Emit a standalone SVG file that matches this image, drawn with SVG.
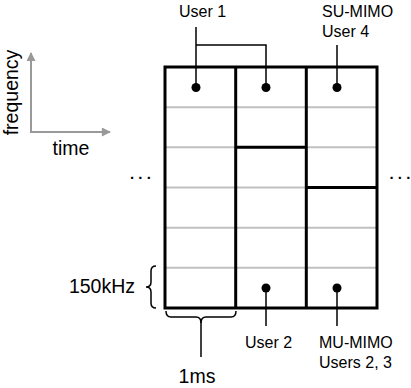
<svg xmlns="http://www.w3.org/2000/svg" width="411" height="388" viewBox="0 0 411 388">
<style>
text{font-family:"Liberation Sans",Arial,sans-serif;fill:#000}
.u{font-size:16px}
.b{font-size:19.5px}
.e{font-size:15px;font-weight:bold}
.g{stroke:#c0c0c0;stroke-width:2;fill:none}
.k{stroke:#000;stroke-width:3;fill:none}
.c{stroke:#000;stroke-width:1.5;fill:none}
.ax{stroke:#999;stroke-width:2;fill:none}
</style>
<defs>
<marker id="ah" viewBox="0 0 10 10" refX="9" refY="5" markerWidth="10" markerHeight="9" markerUnits="userSpaceOnUse" orient="auto">
<path d="M0,0 L10,5 L0,10 z" fill="#999"/>
</marker>
</defs>
<g id="axes">
<line class="ax" x1="31" y1="132" x2="31" y2="53" marker-end="url(#ah)"/>
<line class="ax" x1="30" y1="132" x2="110" y2="132" marker-end="url(#ah)"/>
<text class="b" transform="translate(18,92.5) rotate(-90)" text-anchor="middle">frequency</text>
<text class="b" x="71" y="155" text-anchor="middle">time</text>
</g>
<g id="grid">
<line class="g" x1="165" y1="107.2" x2="377" y2="107.2"/>
<line class="g" x1="165" y1="147.3" x2="377" y2="147.3"/>
<line class="g" x1="165" y1="187.5" x2="377" y2="187.5"/>
<line class="g" x1="165" y1="227.7" x2="377" y2="227.7"/>
<line class="g" x1="165" y1="267.8" x2="377" y2="267.8"/>
<rect class="k" x="165" y="67" width="212" height="241"/>
<line class="k" x1="235.7" y1="67" x2="235.7" y2="308"/>
<line class="k" x1="306.3" y1="67" x2="306.3" y2="308"/>
<line class="k" x1="235.7" y1="147.3" x2="306.3" y2="147.3"/>
<line class="k" x1="306.3" y1="187.5" x2="377" y2="187.5"/>
</g>
<g id="ellipsis">
<text class="e" x="130" y="179">. . .</text>
<text class="e" x="389.5" y="179">. . .</text>
</g>
<g id="connectors">
<polyline class="c" points="196,27 196,87.5"/>
<polyline class="c" points="196,45 266,45 266,87.5"/>
<line class="c" x1="337" y1="45" x2="337" y2="87.5"/>
<line class="c" x1="266" y1="288" x2="266" y2="326"/>
<line class="c" x1="337" y1="288" x2="337" y2="326"/>
</g>
<g id="dots">
<circle cx="196" cy="87.5" r="4.5"/>
<circle cx="266" cy="87.5" r="4.5"/>
<circle cx="337" cy="87.5" r="4.5"/>
<circle cx="266" cy="288" r="4.5"/>
<circle cx="337" cy="288" r="4.5"/>
</g>
<g id="labels">
<text class="u" x="179" y="17">User 1</text>
<text class="u" x="322" y="17">SU-MIMO</text>
<text class="u" x="322" y="37">User 4</text>
<text class="u" x="245" y="348">User 2</text>
<text class="u" x="319" y="348">MU-MIMO</text>
<text class="u" x="319" y="368">Users 2, 3</text>
</g>
<g id="braces">
<path class="c" d="M156,266 Q151,266 151,271 L151,282 Q151,287 146,287 Q151,287 151,292 L151,303 Q151,308 156,308"/>
<path class="c" d="M166,311 Q166,317 171,317 L196,317 Q201,317 201,323 Q201,317 206,317 L231,317 Q236,317 236,311"/>
<line class="c" x1="201" y1="322" x2="201" y2="357"/>
<text class="b" x="135" y="293" text-anchor="end">150kHz</text>
<text class="b" x="197" y="383" text-anchor="middle">1ms</text>
</g>
</svg>
